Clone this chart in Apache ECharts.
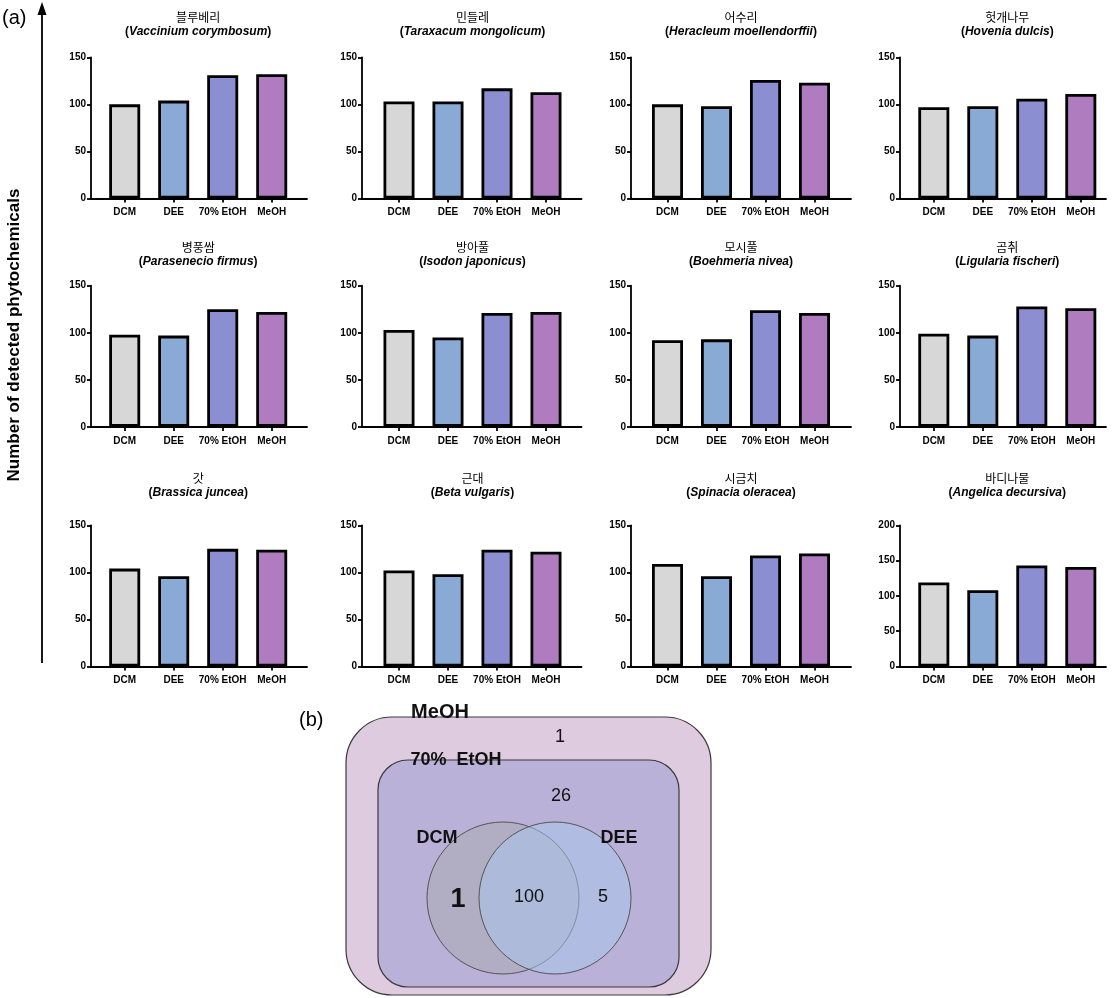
<!DOCTYPE html>
<html>
<head>
<meta charset="utf-8">
<script src="https://cdn.jsdelivr.net/npm/echarts@6/dist/echarts.min.js"></script>
<style>html,body{margin:0;padding:0;background:#fff}#c{width:1116px;height:998px}</style>
</head>
<body>
<div id="c"></div>
<script>
// ---------- DATA ----------
const categories = ['DCM', 'DEE', '70% EtOH', 'MeOH'];
const koreanNames = ['블루베리', '민들레', '어수리', '헛개나무', '병풍쌈', '방아풀', '모시풀', '곰취', '갓', '근대', '시금치', '바디나물'];
const scientificNames = ['Vaccinium corymbosum', 'Taraxacum mongolicum', 'Heracleum moellendorffii', 'Hovenia dulcis',
  'Parasenecio firmus', 'Isodon japonicus', 'Boehmeria nivea', 'Ligularia fischeri',
  'Brassica juncea', 'Beta vulgaris', 'Spinacia oleracea', 'Angelica decursiva'];
const dcmValues  = [100, 103, 100, 97,  98, 103, 92, 99,  104, 102, 109, 119];
const deeValues  = [104, 103,  98, 98,  97,  95, 93, 97,   96,  98,  96, 108];
const etohValues = [131, 117, 126, 106, 125, 121, 124, 128, 125, 124, 118, 143];
const meohValues = [132, 113, 123, 111, 122, 122, 121, 126, 124, 122, 120, 141];
const yMaxValues = [150, 150, 150, 150, 150, 150, 150, 150, 150, 150, 150, 200];
const yTickStep = 50;
const yAxisTitle = 'Number of detected phytochemicals';

const vennSetNames = ['MeOH', '70% EtOH', 'DCM', 'DEE'];
const vennRegionNames = ['MeOH only', '70% EtOH only', 'DCM only', 'DCM ∩ DEE', 'DEE only'];
const vennCounts = [1, 26, 1, 100, 5];

// ---------- STYLE / LAYOUT ----------
const barColors = ['#d7d7d7', '#8aaad6', '#8b8fd1', '#b07cc0'];
const FONT = 'Liberation Sans, Arial, Noto Sans CJK KR, sans-serif';
const colAxisLeft = [91, 362, 631, 900];
const colFirstCenter = [124.7, 399, 667.5, 933.8];
const colAxisRight = [307, 581.5, 851, 1106];
const bandW = 49;
const rowTop = [57.3, 285.7, 525.3];
const rowH = 141.2;
const titleTop = [11, 241, 472];

const chart = echarts.init(document.getElementById('c'), null, {renderer: 'canvas'});

const grid = [], xAxis = [], yAxis = [], series = [], title = [];
for (let i = 0; i < 12; i++) {
  const col = i % 4, row = Math.floor(i / 4);
  const narrowLeft = colFirstCenter[col] - bandW / 2;
  grid.push({left: colAxisLeft[col], top: rowTop[row], width: colAxisRight[col] - colAxisLeft[col], height: rowH, containLabel: false});
  grid.push({left: narrowLeft, top: rowTop[row], width: bandW * 4, height: rowH, containLabel: false});
  xAxis.push({gridIndex: 2 * i, type: 'value', min: 0, max: 1,
    axisLine: {show: true, lineStyle: {color: '#000', width: 1.8}}, axisTick: {show: false}, axisLabel: {show: false}, splitLine: {show: false}});
  yAxis.push({gridIndex: 2 * i, type: 'value', min: 0, max: yMaxValues[i], interval: yTickStep,
    axisLine: {show: true, lineStyle: {color: '#000', width: 1.8}},
    axisTick: {show: true, length: 4, lineStyle: {color: '#000', width: 1.8}},
    axisLabel: {color: '#000', fontSize: 10, fontWeight: 'bold', fontFamily: FONT, margin: 5},
    splitLine: {show: false}});
  xAxis.push({gridIndex: 2 * i + 1, type: 'category', data: categories, boundaryGap: true,
    axisLine: {show: false},
    axisTick: {show: true, alignWithLabel: true, length: 4, lineStyle: {color: '#000', width: 1.8}},
    axisLabel: {color: '#000', fontSize: 10, fontWeight: 'bold', fontFamily: FONT, margin: 9, interval: 0}});
  yAxis.push({gridIndex: 2 * i + 1, type: 'value', min: 0, max: yMaxValues[i], interval: yTickStep, show: false});
  const vals = [dcmValues[i], deeValues[i], etohValues[i], meohValues[i]];
  series.push({
    type: 'bar', xAxisIndex: 2 * i + 1, yAxisIndex: 2 * i + 1, barWidth: 31,
    data: vals.map((v, k) => ({value: v, itemStyle: {color: barColors[k], borderColor: '#000', borderWidth: 2.8}})),
    animation: false, silent: true
  });
  title.push({
    text: koreanNames[i],
    subtext: '{p|(}{it|' + scientificNames[i] + '}{p|)}',
    left: colFirstCenter[col] + 1.5 * bandW, top: titleTop[row], textAlign: 'center', padding: 0, itemGap: 3,
    textStyle: {fontSize: 12, fontWeight: 'normal', color: '#000', fontFamily: 'Noto Sans CJK KR, sans-serif'},
    subtextStyle: {fontSize: 12, color: '#000', fontFamily: FONT,
      rich: {p: {fontSize: 12, fontWeight: 'bold', color: '#000', fontFamily: FONT},
             it: {fontSize: 12, fontWeight: 'bold', fontStyle: 'italic', color: '#000', fontFamily: FONT}}}
  });
}

// Venn grid (pixel-like data units)
const vennGridIndex = 24;
grid.push({left: 300, top: 700, width: 420, height: 298});
xAxis.push({gridIndex: vennGridIndex, type: 'value', min: 0, max: 420, show: false});
yAxis.push({gridIndex: vennGridIndex, type: 'value', min: 0, max: 298, inverse: true, show: false});

const vennLayout = {
  outer: {x1: 46, y1: 17, x2: 411, y2: 295, r: 46, fill: '#dfcbe0'},
  inner: {x1: 78, y1: 60, x2: 379, y2: 287, r: 30, fill: '#b9b1d7'},
  dcm: {cx: 203, cy: 198, r: 76, fill: 'rgba(172,170,178,0.55)'},
  dee: {cx: 255, cy: 198, r: 76, fill: 'rgba(170,200,240,0.5)'},
  setLabels: [[140, 12, 20], [156, 60, 18], [137, 138, 18], [319, 138, 18]],
  countLabels: [[260, 37, 18, '500'], [261, 96, 18, '500'], [158, 200, 27, 'bold'], [229, 197, 18, 'normal'], [303, 197, 18, 'normal']]
};

series.push({
  type: 'custom', xAxisIndex: vennGridIndex, yAxisIndex: vennGridIndex, data: [[0, 0]], animation: false, silent: true,
  renderItem: function (params, api) {
    const L = vennLayout;
    function rr(o) {
      const p1 = api.coord([o.x1, o.y1]), p2 = api.coord([o.x2, o.y2]);
      return {type: 'rect', shape: {x: p1[0], y: p1[1], width: p2[0] - p1[0], height: p2[1] - p1[1], r: o.r},
        style: {fill: o.fill, stroke: '#3a3a3a', lineWidth: 1.2}};
    }
    function circ(o) {
      const p = api.coord([o.cx, o.cy]);
      const s = api.size([o.r, o.r]);
      return {type: 'circle', shape: {cx: p[0], cy: p[1], r: s[0]}, style: {fill: o.fill, stroke: '#555', lineWidth: 1}};
    }
    const children = [rr(L.outer), rr(L.inner), circ(L.dcm), circ(L.dee)];
    vennSetNames.forEach((n, k) => {
      const s = L.setLabels[k];
      const p = api.coord([s[0], s[1]]);
      children.push({type: 'text', x: p[0], y: p[1],
        style: {text: k === 1 ? '70%  EtOH' : n, fill: '#111', font: 'bold ' + s[2] + 'px ' + FONT, align: 'center', verticalAlign: 'middle'}});
    });
    vennCounts.forEach((v, k) => {
      const s = L.countLabels[k];
      const p = api.coord([s[0], s[1]]);
      children.push({type: 'text', x: p[0], y: p[1],
        style: {text: String(v), fill: '#111', font: s[3] + ' ' + s[2] + 'px ' + FONT, align: 'center', verticalAlign: 'middle'}});
    });
    return {type: 'group', children: children};
  }
});

const option = {
  backgroundColor: '#fff',
  animation: false,
  title: title,
  grid: grid, xAxis: xAxis, yAxis: yAxis, series: series,
  graphic: [
    {type: 'text', left: 2, top: 8, style: {text: '(a)', font: '20px ' + FONT, fill: '#000'}},
    {type: 'text', left: 299, top: 710, style: {text: '(b)', font: '20px ' + FONT, fill: '#000'}},
    {type: 'text', x: 14, y: 335, rotation: Math.PI / 2,
      style: {text: yAxisTitle, font: 'bold 17px ' + FONT, fill: '#000', align: 'center', verticalAlign: 'middle'}},
    {type: 'line', shape: {x1: 42, y1: 663, x2: 42, y2: 12}, style: {stroke: '#000', lineWidth: 1.8}},
    {type: 'polygon', shape: {points: [[42, 2], [37.5, 15], [46.5, 15]]}, style: {fill: '#000'}}
  ]
};
chart.setOption(option);
</script>
</body>
</html>
